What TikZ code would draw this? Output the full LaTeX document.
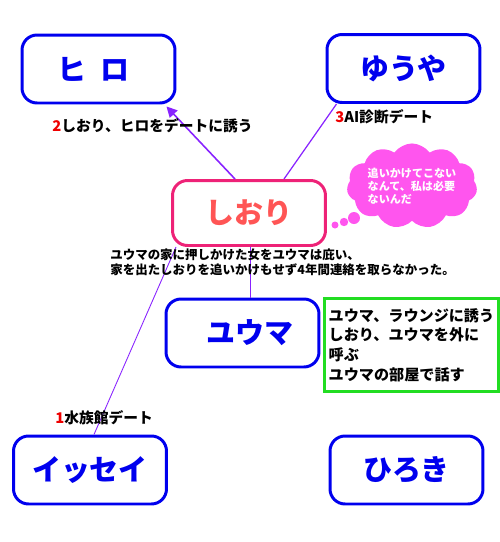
\documentclass[tikz,border=0pt]{standalone}
\usepackage{fontspec}
\setmainfont{Noto Sans CJK JP}
\usetikzlibrary{shapes.symbols,arrows.meta}

% Colours
\definecolor{r0g0b238}{rgb}{0.000000,0.000000,0.933333}%
\definecolor{r238g34b119}{rgb}{0.933333,0.133333,0.466667}%
\definecolor{r255g85b85}{rgb}{1.000000,0.333333,0.333333}%
\definecolor{r34g221b34}{rgb}{0.133333,0.866667,0.133333}%
\definecolor{r136g34b255}{rgb}{0.533333,0.133333,1.000000}%
\definecolor{r255g85b238}{rgb}{1.000000,0.333333,0.933333}%
\definecolor{r238g0b0}{rgb}{0.933333,0.000000,0.000000}%

\tikzset{
  personbox/.style={draw=r0g0b238, line width=1.7pt, rounded corners=0.3cm,
    minimum width=3.06cm, minimum height=1.36cm, text=r0g0b238,
    font=\fontsize{16.5}{19}\selectfont\bfseries},
  herbox/.style={personbox, draw=r238g34b119, text=r255g85b85, minimum height=1.30cm},
  notebox/.style={draw=r34g221b34, line width=1.7pt, minimum width=3.48cm,
    minimum height=1.86cm, align=left, inner sep=2pt, anchor=north west,
    font=\fontsize{8.6}{11.2}\selectfont\bfseries},
  datelabel/.style={anchor=west, inner sep=0pt, font=\fontsize{8.4}{10}\selectfont\bfseries},
  storytext/.style={anchor=north west, align=left, inner sep=0pt,
    font=\fontsize{7.1}{8.6}\selectfont\bfseries},
  link/.style={draw=r136g34b255, line width=0.5pt}
}

\begin{document}
\begin{tikzpicture}[x=0.02cm, y=-0.02cm]
  \useasboundingbox (0,0) rectangle (500,542);

  % Drawing persons
  \node [personbox] (hiro)   at (98.5,69)  {\hspace{-0.2cm}ヒ\hspace{0.5em}ロ};
  \node [personbox] (yuuya)  at (403.5,68.5) {ゆうや};
  \node [herbox]    (shiori) at (249,213)  {しおり};
  \node [personbox] (yuuma)  at (242.5,333) {\hspace{0.3cm}ユウマ};
  \node [personbox] (issei)  at (90,470)   {イッセイ};
  \node [personbox] (hiroki) at (406.5,470) {ひろき};

  % Drawing links
  \draw [link, line width=0.9pt, -{Triangle[length=6pt,width=6pt]}]
    ([xshift=1.28cm]shiori.north west) -- ([xshift=-0.2cm,yshift=-0.04cm]hiro.south east);
  \draw [link, line width=0.7pt]
    ([xshift=-0.86cm]shiori.north east) -- ([xshift=0.22cm]yuuya.south west);
  \draw [link]
    ([xshift=0.08cm]issei.north) -- ([xshift=0.1cm]shiori.south west);
  \draw [link]
    ([xshift=0.02cm]shiori.south) -- ([xshift=0.02cm]shiori.south |- yuuma.north);

  % Marking dates
  \node [datelabel] (date2) at (52,126)  {\textcolor{r238g0b0}{2}しおり、ヒロをデートに誘う};
  \node [datelabel] (date3) at (335,117) {\textcolor{r238g0b0}{3}AI診断デート};
  \node [datelabel] (date1) at (55,418)  {\textcolor{r238g0b0}{\itshape 1}水族館デート};

  % Marking story
  \node [storytext] (story) at (110,248)
    {ユウマの家に押しかけた女をユウマは庇い、\\家を出たしおりを追いかけもせず4年間連絡を取らなかった。};

  % Marking note
  \node [notebox] (note) at (323,297)
    {ユウマ、ラウンジに誘う\\しおり、ユウマを外に\\呼ぶ\\ユウマの部屋で話す};

  % Drawing thought cloud
  \node [cloud, cloud puffs=11, cloud puff arc=110, aspect=1.8, fill=r255g85b238,
    minimum width=2.3cm, minimum height=1.26cm, inner sep=0pt, text=white,
    align=left, font=\fontsize{6.3}{7.5}\selectfont\bfseries] (thought) at (412,186)
    {追いかけてこない\\なんて、私は必要\\ないんだ};
  \fill [r255g85b238] (335,225) circle (0.07cm) (344,222) circle (0.084cm) (354,218) circle (0.12cm);
\end{tikzpicture}
\end{document}
